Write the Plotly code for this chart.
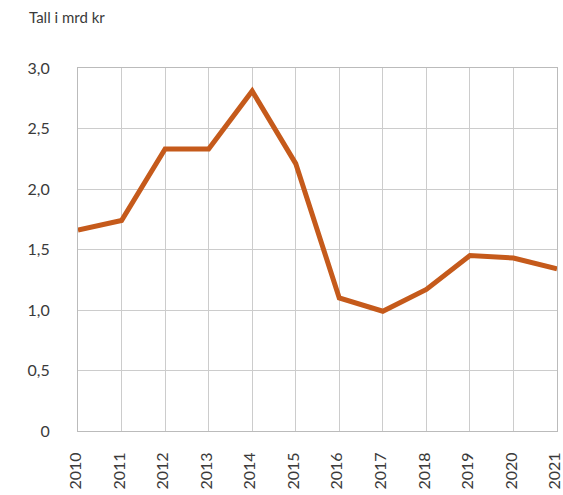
import plotly.graph_objects as go

years = [2010, 2011, 2012, 2013, 2014, 2015, 2016, 2017, 2018, 2019, 2020, 2021]
values = [1.66, 1.74, 2.33, 2.33, 2.81, 2.21, 1.10, 0.99, 1.17, 1.45, 1.43, 1.34]
y_ticks = [0, 0.5, 1.0, 1.5, 2.0, 2.5, 3.0]
y_tick_labels = ["0", "0,5", "1,0", "1,5", "2,0", "2,5", "3,0"]
title_text = "Tall i mrd kr"

fig = go.Figure()
fig.add_trace(go.Scatter(
    x=years, y=values, mode="lines",
    line=dict(color="#C55A1B", width=5),
    hoverinfo="x+y",
))

fig.update_layout(
    width=563, height=495,
    margin=dict(l=78, r=6, t=68, b=64, autoexpand=False),
    paper_bgcolor="white", plot_bgcolor="white",
    font=dict(family="Lato, sans-serif", size=16, color="#3a3a3a"),
    showlegend=False,
    separators=",.",
    annotations=[dict(
        text=title_text, xref="paper", yref="paper",
        x=-0.106, y=1.0, xanchor="left", yanchor="middle", yshift=51,
        showarrow=False, font=dict(size=15, color="#3a3a3a"),
    )],
)
fig.update_xaxes(
    range=[2010, 2021], tickmode="array", tickvals=years,
    ticktext=[str(y) for y in years], tickangle=-90,
    showgrid=True, gridcolor="#CCCCCC", gridwidth=1,
    showline=True, linecolor="#BBBBBB", mirror=True,
    zeroline=False, ticks="", ticklabelstandoff=14, ticklabelshift=-2,
    automargin=False, ticklabeloverflow="allow",
)
fig.update_yaxes(
    range=[0, 3.0], tickmode="array", tickvals=y_ticks, ticktext=y_tick_labels,
    showgrid=True, gridcolor="#CCCCCC", gridwidth=1,
    showline=True, linecolor="#BBBBBB", mirror=True,
    zeroline=False, ticks="", ticklabelstandoff=24,
    automargin=False,
)

fig.write_html(
    "out.html",
    config={"displayModeBar": False},
    post_script="document.body.style.margin='0';document.body.style.overflow='hidden';",
)
